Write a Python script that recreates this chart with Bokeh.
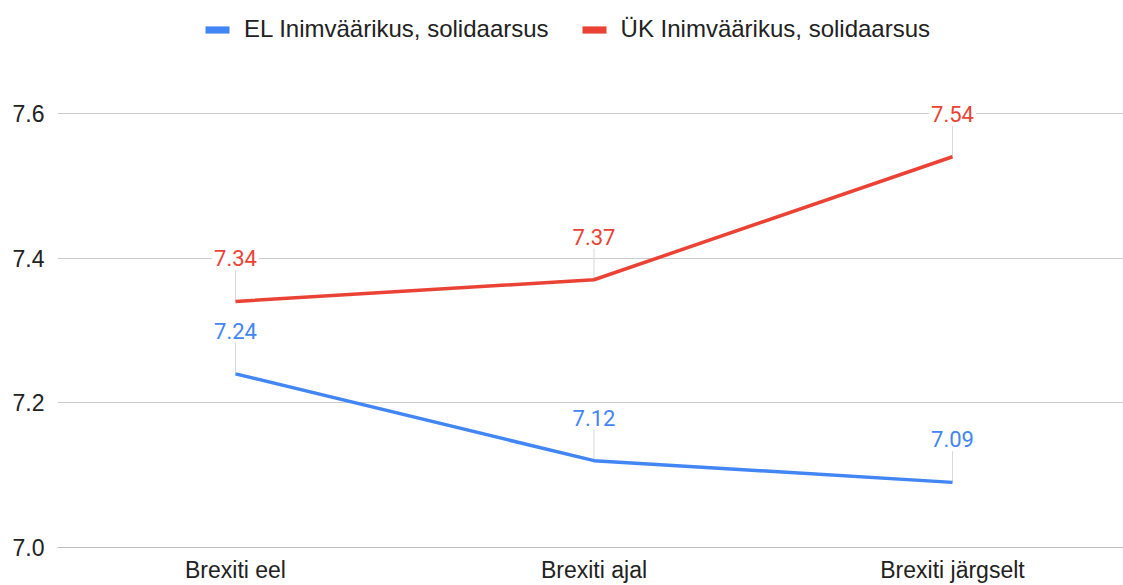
from bokeh.plotting import figure
from bokeh.models import (ColumnDataSource, Range1d, FixedTicker, Legend, LegendItem)
from bokeh.core.properties import value
from bokeh.embed import file_html
from bokeh.resources import INLINE

categories = ["Brexiti eel", "Brexiti ajal", "Brexiti järgselt"]
el_values = [7.24, 7.12, 7.09]
uk_values = [7.34, 7.37, 7.54]
series_names = ["EL Inimväärikus, solidaarsus", "ÜK Inimväärikus, solidaarsus"]
y_ticks = [7.0, 7.2, 7.4, 7.6]

BLUE = "#4285f4"
RED = "#ea4335"
AXFONT = "Liberation Sans"
LBLFONT = "Roboto"
NAN = float("nan")

x_idx = list(range(len(categories)))

p = figure(width=1123, height=585, output_backend="svg", toolbar_location=None,
           x_range=Range1d(-0.4965, 2.477), y_range=Range1d(7.0, 7.7559),
           min_border_left=57, min_border_right=0, min_border_top=0, min_border_bottom=37)
p.outline_line_color = None
p.background_fill_color = "white"

# axes
p.xaxis.ticker = FixedTicker(ticks=x_idx)
p.xaxis.major_label_overrides = {i: c for i, c in zip(x_idx, categories)}
p.xaxis.axis_line_color = "#bdbdbd"
p.xaxis.axis_line_width = 1
p.xaxis.major_tick_line_color = None
p.xaxis.minor_tick_line_color = None
p.xaxis.major_tick_out = 0
p.xaxis.minor_tick_out = 0
p.xaxis.major_label_text_font = AXFONT
p.xaxis.major_label_text_font_size = "23px"
p.xaxis.major_label_text_color = "#222222"
p.xaxis.major_label_standoff = 9

p.yaxis.ticker = FixedTicker(ticks=y_ticks)
p.yaxis.major_label_overrides = {t: f"{t:.1f}" for t in y_ticks}
p.yaxis.axis_line_color = None
p.yaxis.major_tick_line_color = None
p.yaxis.minor_tick_line_color = None
p.yaxis.major_tick_out = 0
p.yaxis.minor_tick_out = 0
p.yaxis.major_label_text_font = AXFONT
p.yaxis.major_label_text_font_size = "23px"
p.yaxis.major_label_text_color = "#222222"
p.yaxis.major_label_standoff = 13

p.xgrid.grid_line_color = None
p.ygrid.ticker = FixedTicker(ticks=y_ticks)
p.ygrid.grid_line_color = "#cccccc"
p.ygrid.grid_line_width = 1

# leader lines (label offset above point)
lead = 0.043
for vals in (el_values, uk_values):
    src = ColumnDataSource(dict(x=x_idx, y0=vals, y1=[v + lead for v in vals]))
    p.segment(x0="x", y0="y0", x1="x", y1="y1", source=src, line_color="#d9d9d9", line_width=1)

# lines
el_src = ColumnDataSource(dict(x=x_idx, y=el_values, lbl=[f"{v:.2f}" for v in el_values]))
uk_src = ColumnDataSource(dict(x=x_idx, y=uk_values, lbl=[f"{v:.2f}" for v in uk_values]))
p.line("x", "y", source=el_src, line_color=BLUE, line_width=3.5)
p.line("x", "y", source=uk_src, line_color=RED, line_width=3.5)

# labels
for src, col in ((el_src, BLUE), (uk_src, RED)):
    p.text("x", "y", text="lbl", source=src, y_offset=-43, text_align="center",
           text_baseline="middle", text_font=value(LBLFONT), text_font_size="22px",
           text_color=col, background_fill_color="white", padding=2)

# legend proxies
el_q = p.quad(left=[NAN], right=[NAN], top=[NAN], bottom=[NAN], fill_color=BLUE, line_color=None)
uk_q = p.quad(left=[NAN], right=[NAN], top=[NAN], bottom=[NAN], fill_color=RED, line_color=None)
legend = Legend(items=[LegendItem(label=series_names[0], renderers=[el_q]),
                       LegendItem(label=series_names[1], renderers=[uk_q])],
                orientation="horizontal", location=(145, 504),
                glyph_width=30, glyph_height=9, label_standoff=12, spacing=30,
                padding=0, margin=0, background_fill_alpha=0, border_line_color=None,
                label_text_font=AXFONT, label_text_font_size="24px", label_text_color="#222222")
p.add_layout(legend, "center")

open("out.html", "w").write(file_html(p, INLINE))
